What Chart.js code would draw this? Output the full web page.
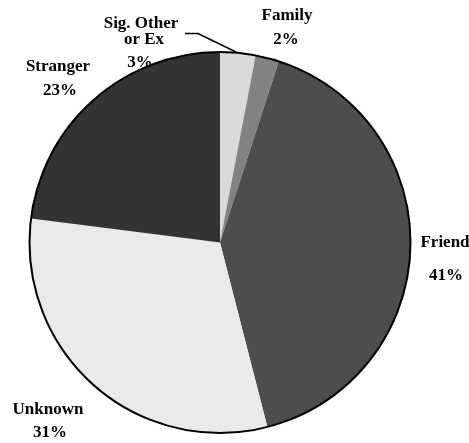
<!DOCTYPE html>
<html>
<head>
<meta charset="utf-8">
<script src="https://cdn.jsdelivr.net/npm/chart.js@4/dist/chart.umd.min.js"></script>
<style>
  body { margin: 0; background: #fff; }
  #wrap { width: 469px; height: 443px; }
</style>
</head>
<body>
<div id="wrap"><canvas id="pieChart" width="469" height="443"></canvas></div>
<script>
const categories = ['Sig. Other or Ex', 'Family', 'Friend', 'Unknown', 'Stranger'];
const percents = [3, 2, 41, 31, 23];
const labelLines = [['Sig. Other', 'or Ex'], ['Family'], ['Friend'], ['Unknown'], ['Stranger']];
const sliceColors = ['#dadada', '#828282', '#4d4d4d', '#eaeaea', '#333333'];

// label spots, measured from the pie centre (dx, dy of each line)
const labelSpots = [
    [[-79, -219], [-76, -203], [-80, -180]],
    [[67, -227], [66, -203]],
    [[225, 0], [226, 33]],
    [[-172, 167], [-170, 190]],
    [[-162, -176], [-160, -152]]
];

const pieLabels = {
    id: 'pieLabels',
    afterDatasetsDraw(chart) {
        const ctx = chart.ctx;
        const arc = chart.getDatasetMeta(0).data[0];
        const cx = arc.x, cy = arc.y, r = arc.outerRadius;
        ctx.save();
        // outer edge only
        ctx.beginPath();
        ctx.arc(cx, cy, r, 0, Math.PI * 2);
        ctx.lineWidth = 2;
        ctx.strokeStyle = '#000';
        ctx.stroke();

        // leader line for the small slice
        ctx.beginPath();
        ctx.moveTo(cx - 35, cy - 209);
        ctx.lineTo(cx - 22, cy - 209);
        ctx.lineTo(cx + 16, cy - r);
        ctx.lineWidth = 1.5;
        ctx.stroke();

        ctx.fillStyle = '#000';
        ctx.font = 'bold 17px "Liberation Serif", "Times New Roman", serif';
        ctx.textAlign = 'center';
        ctx.textBaseline = 'middle';
        categories.forEach((c, i) => {
            const lines = labelLines[i].concat([percents[i] + '%']);
            lines.forEach((t, j) => {
                const p = labelSpots[i][j];
                ctx.fillText(t, cx + p[0], cy + p[1]);
            });
        });
        ctx.restore();
    }
};

const ctx = document.getElementById('pieChart').getContext('2d');
const pieChart = new Chart(ctx, {
    type: 'pie',
    data: {
        labels: categories,
        datasets: [{
            data: percents,
            backgroundColor: sliceColors,
            borderWidth: 0
        }]
    },
    options: {
        responsive: false,
        animation: false,
        layout: {
            padding: { left: 28, right: 57, top: 52, bottom: 10 }
        },
        plugins: {
            legend: { display: false },
            tooltip: { enabled: false }
        }
    },
    plugins: [pieLabels]
});
</script>
</body>
</html>
